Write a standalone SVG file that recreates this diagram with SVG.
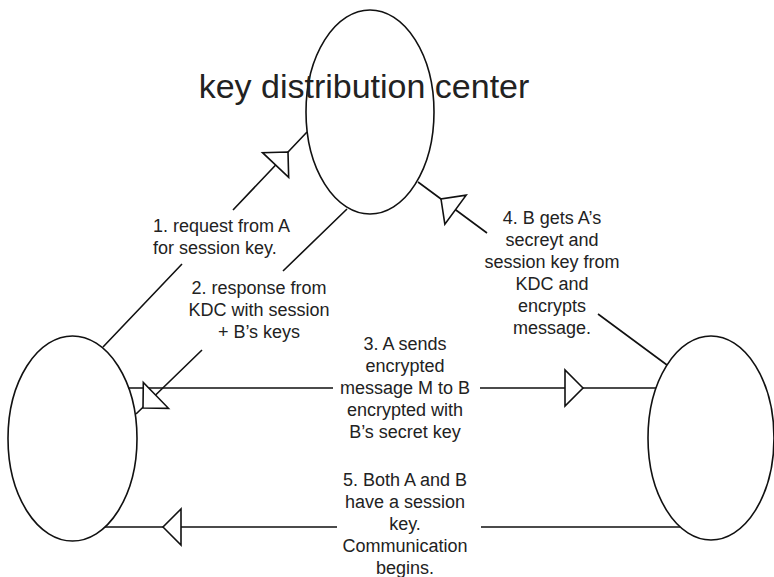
<svg xmlns="http://www.w3.org/2000/svg" xmlns:xlink="http://www.w3.org/1999/xlink" width="774" height="577" viewBox="0 0 774 577">
<style>
.node{fill:#fff;stroke:#111;stroke-width:1.6}
.edge{stroke:#111;stroke-width:1.6;fill:none}
.head{fill:#fff;stroke:#111;stroke-width:1.6;stroke-linejoin:miter}
.lbl{font-family:"Liberation Sans",Arial,Helvetica,sans-serif;font-size:18px;fill:#222}
.c{text-anchor:middle}
.title{font-family:"Liberation Sans",Arial,Helvetica,sans-serif;font-size:34px;fill:#222;text-anchor:middle}
</style>
<defs>
<path id="ah" d="M0,0 L-18,-18 L-18,18 Z"/>
</defs>
<rect width="774" height="577" fill="#fff"/>
<g id="nodeA"><ellipse class="node" cx="72.5" cy="438.5" rx="64.5" ry="102.5"/></g>
<g id="nodeB"><ellipse class="node" cx="711" cy="438" rx="63" ry="102"/></g>
<g id="kdc"><ellipse class="node" cx="370" cy="112" rx="64" ry="102"/>
<text class="title" x="364" y="98">key distribution center</text></g>
<g id="connectors">
<path class="edge" d="M103,347 L182,264 M233,210 L307,132"/>
<path class="edge" d="M347,209 L283,271 M202,350 L136,414"/>
<path class="edge" d="M128,388 L333,388 M480,388 L656,388"/>
<path class="edge" d="M667,365 L598,314 M487,233 L418,182"/>
<path class="edge" d="M105,527 L337,527 M481,527 L680,527"/>
<use xlink:href="#ah" class="head" transform="translate(288,152) rotate(-46.5)"/>
<use xlink:href="#ah" class="head" transform="translate(143,408) rotate(135.7)"/>
<use xlink:href="#ah" class="head" transform="translate(583,388)"/>
<use xlink:href="#ah" class="head" transform="translate(441,199) rotate(-143.7)"/>
<use xlink:href="#ah" class="head" transform="translate(163,527) rotate(180)"/>
<text class="lbl" x="153" y="232">1. request from A<tspan x="153" y="254">for session key.</tspan></text>
<text class="lbl c" x="259" y="294">2. response from<tspan x="259" y="316">KDC with session</tspan><tspan x="259" y="338">+ B’s keys</tspan></text>
<text class="lbl c" x="405" y="350">3. A sends<tspan x="405" y="372">encrypted</tspan><tspan x="405" y="394">message M to B</tspan><tspan x="405" y="416">encrypted with</tspan><tspan x="405" y="438">B’s secret key</tspan></text>
<text class="lbl c" x="552" y="224">4. B gets A’s<tspan x="552" y="246">secreyt and</tspan><tspan x="552" y="268">session key from</tspan><tspan x="552" y="290">KDC and</tspan><tspan x="552" y="312">encrypts</tspan><tspan x="552" y="334">message.</tspan></text>
<text class="lbl c" x="405" y="486">5. Both A and B<tspan x="405" y="508">have a session</tspan><tspan x="405" y="530">key.</tspan><tspan x="405" y="552">Communication</tspan><tspan x="405" y="574">begins.</tspan></text>
</g>
</svg>
